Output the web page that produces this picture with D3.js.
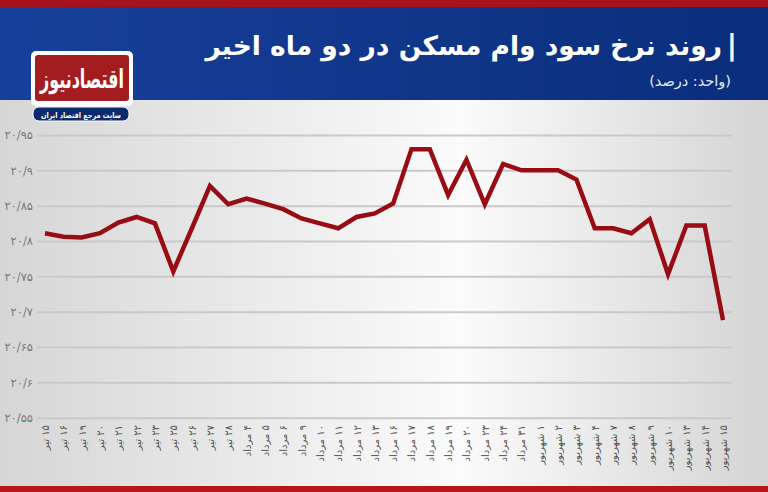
<!DOCTYPE html>
<html>
<head>
<meta charset="utf-8">
<script src="https://cdn.jsdelivr.net/npm/d3@7"></script>
<style>
  html, body { margin: 0; padding: 0; background: #fff; }
  svg { display: block; }
  text { font-family: "DejaVu Sans", "Noto Sans", sans-serif; }
</style>
</head>
<body>
<svg id="chart" width="768" height="492"></svg>
<script>
// ---- data ----
const categories = [
  "۱۵ تیر","۱۶ تیر","۱۹ تیر","۲۰ تیر","۲۱ تیر","۲۲ تیر","۲۳ تیر","۲۵ تیر","۲۶ تیر","۲۷ تیر","۲۸ تیر",
  "۴ مرداد","۵ مرداد","۶ مرداد","۹ مرداد","۱۰ مرداد","۱۱ مرداد","۱۲ مرداد","۱۳ مرداد","۱۶ مرداد",
  "۱۷ مرداد","۱۸ مرداد","۱۹ مرداد","۲۰ مرداد","۲۳ مرداد","۲۴ مرداد","۳۱ مرداد",
  "۱ شهریور","۲ شهریور","۳ شهریور","۴ شهریور","۷ شهریور","۸ شهریور","۹ شهریور","۱۰ شهریور",
  "۱۳ شهریور","۱۴ شهریور","۱۵ شهریور"
];
const rates = [
  20.811, 20.806, 20.805, 20.811, 20.826, 20.834, 20.825, 20.757, 20.817, 20.878, 20.852,
  20.860, 20.853, 20.845, 20.832, 20.825, 20.818, 20.834, 20.839, 20.853,
  20.930, 20.930, 20.865, 20.915, 20.852, 20.909, 20.900,
  20.900, 20.900, 20.887, 20.818, 20.818, 20.811, 20.831, 20.753,
  20.822, 20.822, 20.688
];
const yTickValues = [20.55, 20.6, 20.65, 20.7, 20.75, 20.8, 20.85, 20.9, 20.95];
const yTickLabels = ["۲۰/۵۵","۲۰/۶","۲۰/۶۵","۲۰/۷","۲۰/۷۵","۲۰/۸","۲۰/۸۵","۲۰/۹","۲۰/۹۵"];
const titleText = "روند نرخ سود وام مسکن در دو ماه اخیر";
const subtitleText = "(واحد: درصد)";
const logoText = "اقتصادنیوز";
const logoSub = "سایت مرجع اقتصاد ایران";

// ---- drawing ----
const W = 768, H = 492;
const svg = d3.select("#chart");
const defs = svg.append("defs");

const bg = defs.append("linearGradient").attr("id", "bg").attr("x1", "0").attr("x2", "1").attr("y1", "0").attr("y2", "0");
bg.append("stop").attr("offset", "0").attr("stop-color", "#d6d6d6");
bg.append("stop").attr("offset", "0.6").attr("stop-color", "#fbfbfb");
bg.append("stop").attr("offset", "1").attr("stop-color", "#d4d4d4");

const hd = defs.append("linearGradient").attr("id", "hd").attr("x1", "0").attr("x2", "1").attr("y1", "0").attr("y2", "0");
hd.append("stop").attr("offset", "0").attr("stop-color", "#17409a");
hd.append("stop").attr("offset", "1").attr("stop-color", "#0a2e7c");

svg.append("rect").attr("width", W).attr("height", H).attr("fill", "url(#bg)");
svg.append("rect").attr("x", 0).attr("y", 0).attr("width", W).attr("height", 100).attr("fill", "url(#hd)");
svg.append("rect").attr("x", 0).attr("y", 0).attr("width", W).attr("height", 7).attr("fill", "#a8121a");
svg.append("rect").attr("x", 0).attr("y", 486).attr("width", W).attr("height", 6).attr("fill", "#b8151c");

// title (right-aligned, RTL)
svg.append("text").attr("x", 737).attr("y", 55).attr("text-anchor", "end")
  .attr("fill", "#fff").attr("font-size", 28).attr("font-weight", "bold").text("|");
svg.append("text").attr("x", 722).attr("y", 55).attr("direction", "rtl").attr("text-anchor", "start")
  .attr("fill", "#fff").attr("font-size", 26.5).attr("font-weight", "bold").text(titleText);
svg.append("text").attr("x", 731).attr("y", 86).attr("direction", "rtl").attr("text-anchor", "start")
  .attr("fill", "#e6ecf8").attr("font-size", 14.5).text(subtitleText);

// logo
svg.append("rect").attr("x", 31).attr("y", 51).attr("width", 102).attr("height", 55).attr("rx", 5).attr("fill", "#ffffff");
svg.append("rect").attr("x", 35).attr("y", 55).attr("width", 94).attr("height", 46).attr("rx", 3).attr("fill", "#a31d20");
svg.append("text").attr("x", 82).attr("y", 88).attr("text-anchor", "middle")
  .attr("fill", "#fff").attr("font-size", 26).attr("font-weight", "bold")
  .attr("textLength", 84).attr("lengthAdjust", "spacingAndGlyphs").text(logoText);
svg.append("rect").attr("x", 33).attr("y", 107).attr("width", 96).attr("height", 14).attr("rx", 6)
  .attr("fill", "#0c2a6e").attr("stroke", "#fff").attr("stroke-width", 1);
svg.append("text").attr("x", 81).attr("y", 117.5).attr("text-anchor", "middle")
  .attr("fill", "#fff").attr("font-size", 8).attr("font-weight", "bold")
  .attr("textLength", 80).attr("lengthAdjust", "spacingAndGlyphs").text(logoSub);

// scales
const x = d3.scalePoint().domain(categories).range([45, 723]);
const y = d3.scaleLinear().domain([20.55, 20.95]).range([417.7, 135]);

// grid + y labels
const yAxis = d3.axisLeft(y).tickValues(yTickValues)
  .tickFormat((d, i) => yTickLabels[i]).tickSize(-(732 - 37)).tickPadding(4);
const gy = svg.append("g").attr("transform", "translate(37,0)").call(yAxis);
gy.select(".domain").remove();
gy.selectAll(".tick line").attr("stroke", "#c9c9c9").attr("stroke-width", 2);
gy.selectAll(".tick text").attr("fill", "#7a7a7a").attr("font-size", 11.5);

// x labels (vertical, RTL so the day number sits next to the axis)
const xAxis = d3.axisBottom(x).tickSize(0).tickPadding(0);
const gx = svg.append("g").attr("transform", "translate(0,425)").call(xAxis);
gx.select(".domain").remove();
gx.selectAll(".tick text")
  .attr("transform", "rotate(-90)")
  .attr("direction", "rtl")
  .attr("text-anchor", "start")
  .attr("dx", 0).attr("dy", "0.35em").attr("x", 0).attr("y", 0)
  .attr("fill", "#555").attr("font-size", 10);

// line
const line = d3.line().x((d, i) => x(categories[i])).y(d => y(d));
svg.append("path").datum(rates).attr("d", line)
  .attr("fill", "none").attr("stroke", "#980d13").attr("stroke-width", 4.5)
  .attr("stroke-linejoin", "miter").attr("stroke-linecap", "butt");
</script>
</body>
</html>
